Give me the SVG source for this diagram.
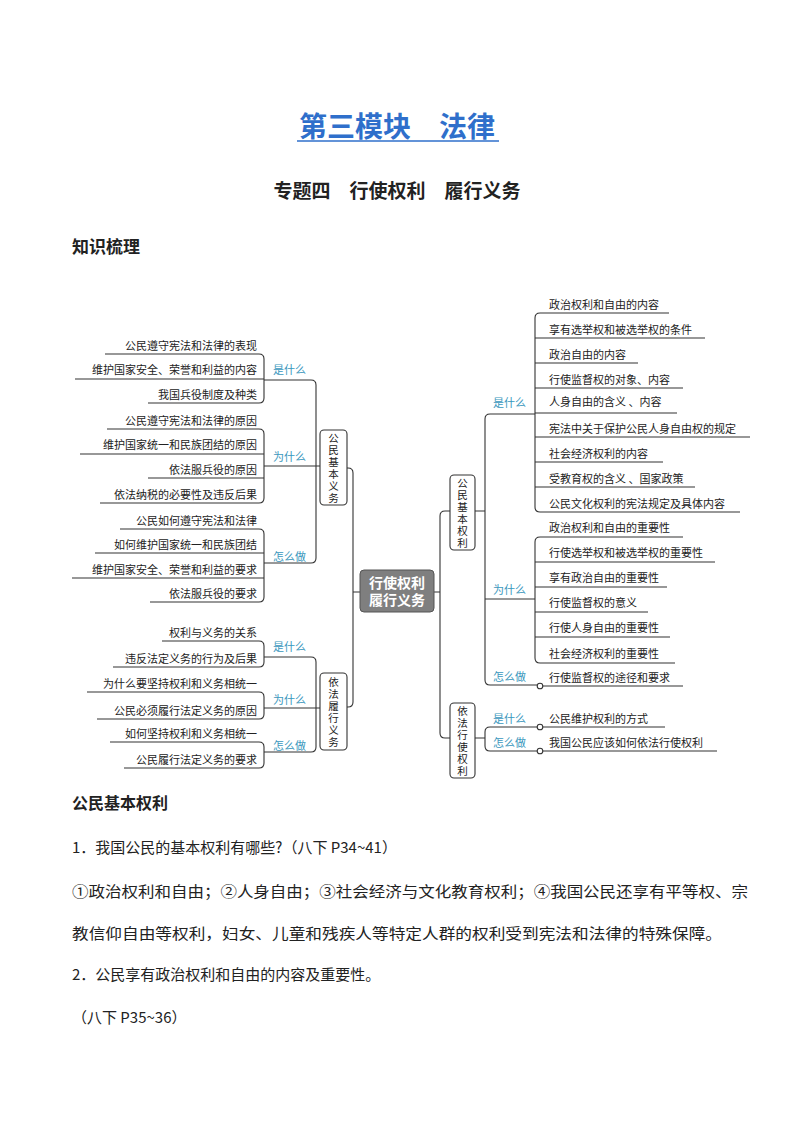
<svg xmlns="http://www.w3.org/2000/svg" width="794" height="1123" viewBox="0 0 794 1123">
<style>
text{font-family:"Noto Sans CJK SC","Noto Sans",sans-serif;fill:#222}
.it{font-size:11px}
.l{text-anchor:end}
.lab{font-size:11px;fill:#3a97bd}
.ln{fill:none;stroke:#333;stroke-width:1.1}
.box{fill:#fff;stroke:#333;stroke-width:1.1}
.bt{font-size:10.5px;writing-mode:vertical-rl;letter-spacing:1.5px}
.body{font-size:15px}
</style>
<rect width="794" height="1123" fill="#fff"/>
<text x="397" y="137" text-anchor="middle" font-size="28" font-weight="bold" style="fill:#2f6fcb">第三模块　法律</text>
<line x1="297" y1="141" x2="499" y2="141" stroke="#2f6fcb" stroke-width="1.5"/>
<text x="397" y="198" text-anchor="middle" font-size="19" font-weight="bold">专题四　行使权利　履行义务</text>
<text x="72" y="253" font-size="17" font-weight="bold">知识梳理</text>

<g id="connectors">
<path class="ln" d="M105 354H259Q264 354 264 359V398Q264 403 259 403H148M75 379H264"/>
<path class="ln" d="M264 380H311Q316 380 316 385V558Q316 563 311 563H264M264 466H320"/>
<path class="ln" d="M107 429H259Q264 429 264 434V498Q264 503 259 503H100M80 454H264M148 478H264"/>
<path class="ln" d="M120 529H259Q264 529 264 534V597Q264 602 259 602H150M95 553H264M72 578H264"/>
<path class="ln" d="M162 641H259Q264 641 264 646V662Q264 667 259 667H113M264 657H311Q316 657 316 662V747Q316 752 311 752H264M264 708H320"/>
<path class="ln" d="M87 692H259Q264 692 264 697V714Q264 719 259 719H97"/>
<path class="ln" d="M110 742H259Q264 742 264 747V763Q264 768 259 768H124"/>
<path class="ln" d="M347 468H348Q353 468 353 473V702Q353 707 348 707H347M353 592H360"/>
<path class="ln" d="M434 592H440M475 511H445Q440 511 440 516V733Q440 738 445 738H450"/>
<path class="ln" d="M475 511H485M485 419Q485 414 490 414H535M485 419V680Q485 685 490 685H537M485 599H535"/>
<path class="ln" d="M669 313H540Q535 313 535 318V507Q535 512 540 512H740M705 338H535M638 363H535M683 388H535M677 413H535M750 437H535M663 462H535M695 487H535"/>
<path class="ln" d="M683 537H540Q535 537 535 542V658Q535 663 540 663H675M715 562H535M667 587H535M648 612H535M670 637H535"/>
<path class="ln" d="M543 686H683"/>
<path class="ln" d="M475 738H485M485 732Q485 727 490 727H537M485 732V746Q485 751 490 751H537M543 727H665M543 751H717"/>
<circle cx="540" cy="686" r="2.8" class="box"/>
<circle cx="540" cy="727" r="2.8" class="box"/>
<circle cx="540" cy="751" r="2.8" class="box"/>
</g>

<g id="labels">
<text class="lab" x="273" y="374">是什么</text>
<text class="lab" x="273" y="461">为什么</text>
<text class="lab" x="273" y="561">怎么做</text>
<text class="lab" x="273" y="651">是什么</text>
<text class="lab" x="273" y="704">为什么</text>
<text class="lab" x="273" y="750">怎么做</text>
<text class="lab" x="493" y="407">是什么</text>
<text class="lab" x="493" y="594">为什么</text>
<text class="lab" x="493" y="681">怎么做</text>
<text class="lab" x="493" y="723">是什么</text>
<text class="lab" x="493" y="747">怎么做</text>
</g>

<g id="left-items">
<text class="it l" x="257" y="350">公民遵守宪法和法律的表现</text>
<text class="it l" x="257" y="374">维护国家安全、荣誉和利益的内容</text>
<text class="it l" x="257" y="399">我国兵役制度及种类</text>
<text class="it l" x="257" y="425">公民遵守宪法和法律的原因</text>
<text class="it l" x="257" y="449">维护国家统一和民族团结的原因</text>
<text class="it l" x="257" y="474">依法服兵役的原因</text>
<text class="it l" x="257" y="499">依法纳税的必要性及违反后果</text>
<text class="it l" x="257" y="525">公民如何遵守宪法和法律</text>
<text class="it l" x="257" y="549">如何维护国家统一和民族团结</text>
<text class="it l" x="257" y="574">维护国家安全、荣誉和利益的要求</text>
<text class="it l" x="257" y="598">依法服兵役的要求</text>
<text class="it l" x="257" y="637">权利与义务的关系</text>
<text class="it l" x="257" y="663">违反法定义务的行为及后果</text>
<text class="it l" x="257" y="688">为什么要坚持权利和义务相统一</text>
<text class="it l" x="257" y="715">公民必须履行法定义务的原因</text>
<text class="it l" x="257" y="738">如何坚持权利和义务相统一</text>
<text class="it l" x="257" y="764">公民履行法定义务的要求</text>
</g>

<g id="right-items">
<text class="it" x="549" y="309">政治权利和自由的内容</text>
<text class="it" x="549" y="334">享有选举权和被选举权的条件</text>
<text class="it" x="549" y="359">政治自由的内容</text>
<text class="it" x="549" y="384">行使监督权的对象、内容</text>
<text class="it" x="549" y="406">人身自由的含义 、内容</text>
<text class="it" x="549" y="433">宪法中关于保护公民人身自由权的规定</text>
<text class="it" x="549" y="458">社会经济权利的内容</text>
<text class="it" x="549" y="483">受教育权的含义 、国家政策</text>
<text class="it" x="549" y="508">公民文化权利的宪法规定及具体内容</text>
<text class="it" x="549" y="532">政治权利和自由的重要性</text>
<text class="it" x="549" y="557">行使选举权和被选举权的重要性</text>
<text class="it" x="549" y="582">享有政治自由的重要性</text>
<text class="it" x="549" y="607">行使监督权的意义</text>
<text class="it" x="549" y="632">行使人身自由的重要性</text>
<text class="it" x="549" y="658">社会经济权利的重要性</text>
<text class="it" x="549" y="682">行使监督权的途径和要求</text>
<text class="it" x="549" y="723">公民维护权利的方式</text>
<text class="it" x="549" y="747">我国公民应该如何依法行使权利</text>
</g>

<g id="node-duty">
<rect class="box" x="320" y="430" width="27" height="75" rx="4"/>
<text class="bt" x="333.5" y="433">公民基本义务</text>
</g>
<g id="node-center">
<rect x="360" y="570" width="74" height="42" rx="4" fill="#7f7f7f" stroke="#555"/>
<text x="397" y="588" text-anchor="middle" font-size="14" font-weight="bold" style="fill:#fff">行使权利</text>
<text x="397" y="605" text-anchor="middle" font-size="14" font-weight="bold" style="fill:#fff">履行义务</text>
</g>
<g id="node-fulfill">
<rect class="box" x="320" y="673" width="27" height="77" rx="4"/>
<text class="bt" x="333.5" y="677">依法履行义务</text>
</g>
<g id="node-rights">
<rect class="box" x="450" y="475" width="25" height="75" rx="4"/>
<text class="bt" x="462.5" y="478">公民基本权利</text>
</g>
<g id="node-exercise">
<rect class="box" x="450" y="703" width="25" height="75" rx="4"/>
<text class="bt" x="462.5" y="706">依法行使权利</text>
</g>

<text x="72" y="809" font-size="16" font-weight="bold">公民基本权利</text>
<text class="body" x="72" y="853">1．我国公民的基本权利有哪些?（八下 P34~41）</text>
<text class="body" x="72" y="897" textLength="676" lengthAdjust="spacingAndGlyphs">①政治权利和自由；②人身自由；③社会经济与文化教育权利；④我国公民还享有平等权、宗</text>
<text class="body" x="72" y="939" textLength="650" lengthAdjust="spacingAndGlyphs">教信仰自由等权利，妇女、儿童和残疾人等特定人群的权利受到宪法和法律的特殊保障。</text>
<text class="body" x="72" y="980">2．公民享有政治权利和自由的内容及重要性。</text>
<text class="body" x="72" y="1023">（八下 P35~36）</text>
</svg>
